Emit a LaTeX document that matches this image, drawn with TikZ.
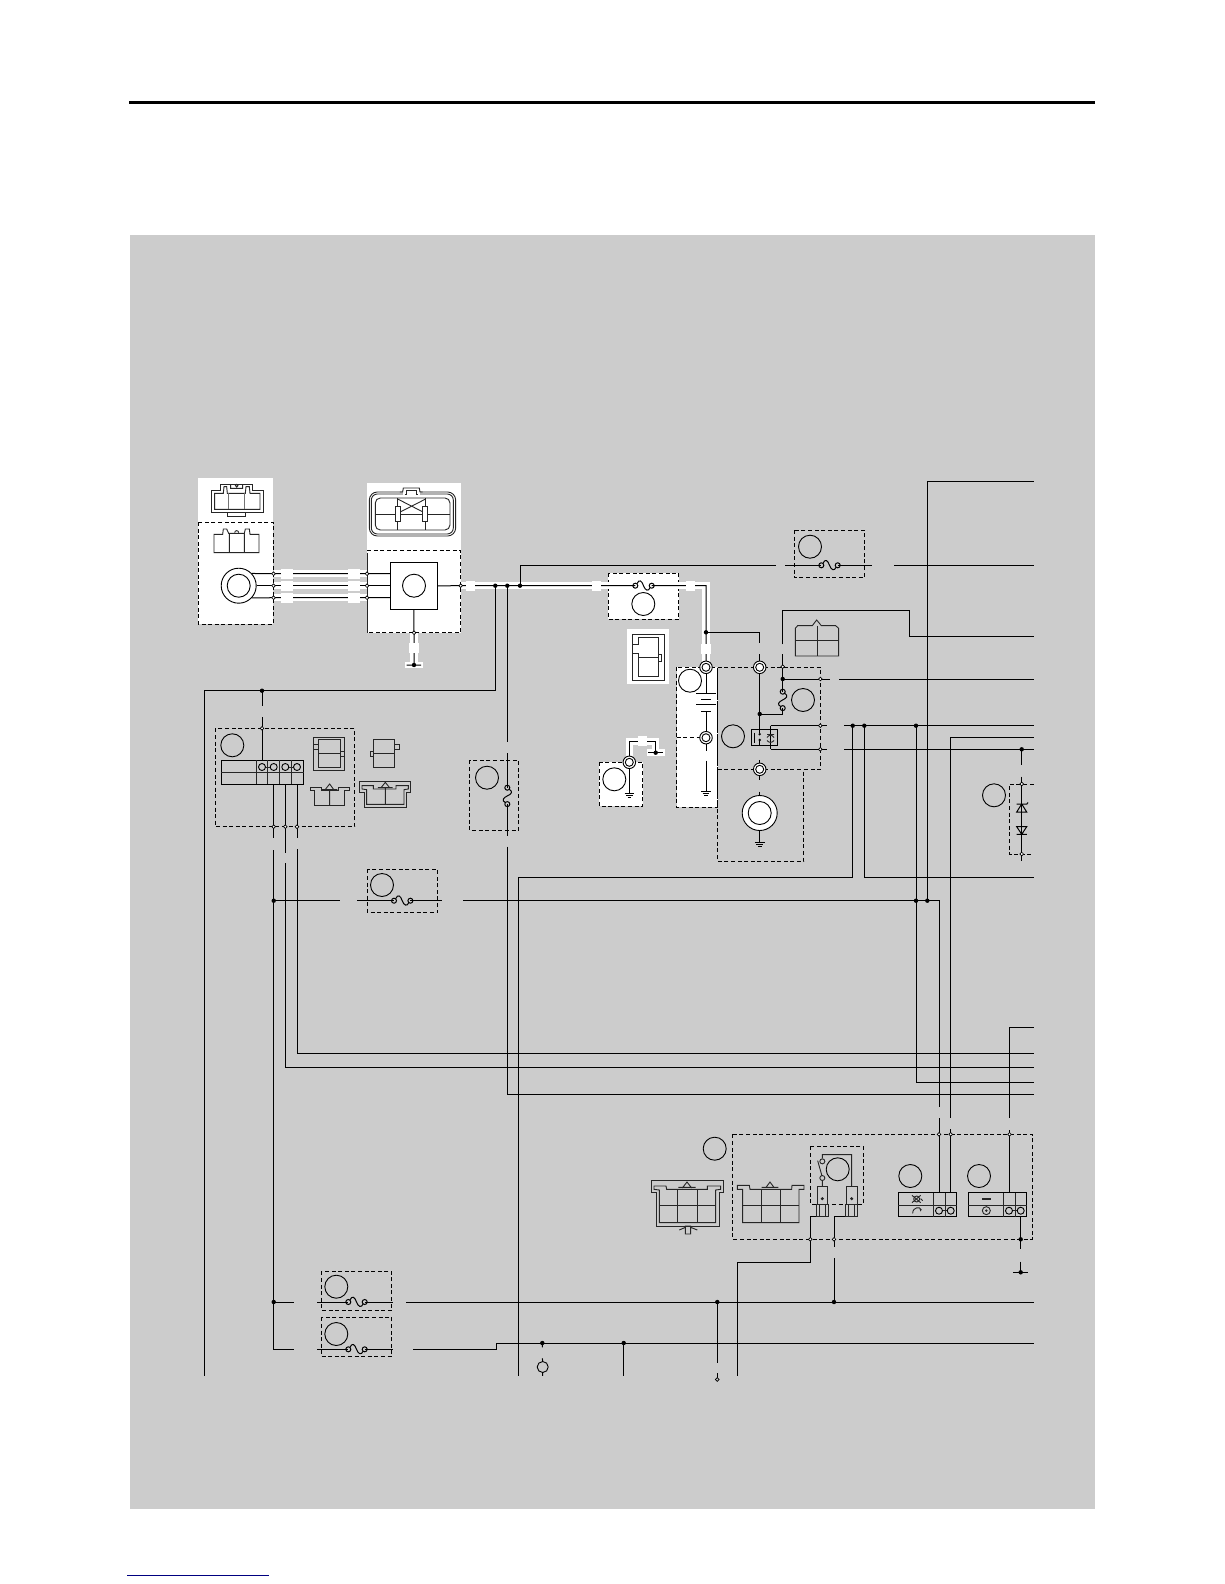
\documentclass[tikz,border=0pt]{standalone}
\usepackage{tikz}
\usetikzlibrary{arrows.meta,shapes.geometric}
\definecolor{panel}{HTML}{CCCCCC}
\definecolor{linkblue}{HTML}{000080}
\tikzset{
  wire/.style={line width=1pt,black},
  halo/.style={line width=7.2pt,white},
  part/.style={line width=0.9pt,black!85},
  dashbox/.style={line width=0.9pt,dash pattern=on 4pt off 2.6pt},
  whitebox/.style={dashbox,fill=white},
  tag/.style={circle,draw,inner sep=0pt,minimum size=23pt,line width=0.9pt},
  gen/.style={circle,draw,fill=white,inner sep=0pt,minimum size=35pt,line width=0.9pt},
  jdot/.style={circle,fill=black,inner sep=0pt,minimum size=4.4pt},
  odot/.style={circle,draw,fill=white,inner sep=0pt,minimum size=3.6pt,line width=0.7pt},
  pin/.style={circle,draw,inner sep=0pt,minimum size=7pt,line width=0.9pt},
  ring/.style={circle,draw,fill=white,inner sep=0pt,minimum size=12.5pt,line width=0.9pt,
    path picture={\draw[line width=0.9pt] (path picture bounding box.center) circle (4pt);}},
  zoomed/.style={x=0.3333pt,y=-0.3333pt,part}
}
\newcommand{\fuseh}[2]{%
  \draw[wire] (#1,#2) circle (2.5pt) (#1+16.4,#2) circle (2.5pt);
  \draw[wire] (#1+1.6,#2-2) .. controls (#1+4,#2-7) and (#1+6.5,#2-5) .. (#1+8.2,#2)
    .. controls (#1+10,#2+5) and (#1+13,#2+6) .. (#1+14.8,#2+2);}
\newcommand{\fusev}[2]{%
  \draw[wire] (#1,#2) circle (2.5pt) (#1,#2+16.4) circle (2.5pt);
  \draw[wire] (#1+2,#2+1.6) .. controls (#1+6,#2+4) and (#1+4,#2+6.5) .. (#1,#2+8.2)
    .. controls (#1-4,#2+10) and (#1-6,#2+13) .. (#1-2,#2+14.8);}
\newcommand{\gnd}[2]{%
  \draw[wire] (#1-4.8,#2) -- (#1+4.8,#2) (#1-3.3,#2+2) -- (#1+3.3,#2+2) (#1-1.8,#2+4) -- (#1+1.8,#2+4);}

\begin{document}
\begin{tikzpicture}[x=1pt,y=-1pt]
  \useasboundingbox (0,0) rectangle (1224,1584);
  \fill[panel] (130,234.7) rectangle (1094.5,1509);
  \fill[black] (129,101) rectangle (1095,104.3);
  \draw[linkblue,line width=1pt] (127,1575) -- (269,1575);

  % white boxes
  \fill[white] (198,478) rectangle (273,522);
  \draw[whitebox] (198,522) rectangle (273,624);
  \fill[white] (367,483) rectangle (460.7,632.7);
  \draw[dashbox] (367,550) -- (460.7,550) -- (460.7,632.7) -- (367,632.7);
  \draw[part] (367,553) -- (367,632.7);
  \draw[whitebox] (608.3,573.3) rectangle (678.7,619.3);
  \fill[white] (627.3,629) rectangle (668.7,684.3);
  \draw[whitebox] (599.3,762.3) rectangle (642.7,806.3);
  \draw[whitebox] (676.7,667.3) rectangle (717.7,807.3);
  \draw[dashbox] (676.7,737.7) -- (700,737.7);

  % plain boxes
  \draw[dashbox] (794.3,530) rectangle (864.3,577.7);
  \draw[dashbox] (717.7,667.3) -- (820.7,667.3) -- (820.7,769.3) -- (803.7,769.3) -- (803.7,861.3) -- (717.7,861.3) -- cycle;
  \draw[dashbox] (717.7,769.3) -- (803.7,769.3);
  \draw[dashbox] (1033.5,784) -- (1009.3,784) -- (1009.3,854) -- (1033.5,854);
  \draw[dashbox] (215.3,728.3) rectangle (354.7,826.7);
  \draw[dashbox] (469.3,760.3) rectangle (518.7,830.3);
  \draw[dashbox] (367.3,869.3) rectangle (437.7,912.3);
  \draw[dashbox] (321.3,1271.3) rectangle (391.7,1310.3);
  \draw[dashbox] (321.3,1317.3) rectangle (391.7,1356.7);
  \draw[dashbox] (732.7,1134.3) rectangle (1032.3,1239.3);
  \draw[dashbox] (810.7,1146.3) rectangle (863.3,1204.3);

  % parts
  \node[gen] (mag) at (238.7,585.7) {};
  \node[tag] (magin) at (238.7,585.7) {};
  \node[draw,fill=white,inner sep=0pt,minimum size=47pt,line width=0.9pt] (ecu) at (413.8,585.8) {};
  \node[gen] (stator) at (759.7,813) {};
  \node[tag] (statorin) at (759.7,813) {};
  \node[draw,inner sep=0pt,minimum width=26pt,minimum height=16.4pt,line width=0.9pt] (relay) at (764.3,737.5) {};
  \node[draw,circle,inner sep=0pt,minimum size=11pt,line width=0.9pt] (horn) at (542.7,1367) {};

  \foreach \n/\x/\y in {
    md1/273.5/573.7, md2/273.5/585.7, md3/273.5/597.7, ec1/367/573.7, ec2/367/585.7, ec3/367/597.7,
    eco/460.7/585.7, ecd/414/632.7, ecg/414/665, ecl/406.7/665, ecr/421/665,
    ja/495.3/585.7, jb/507.3/585.7, jc/520/585.7, fm1/635.3/585.7, fm2/651.7/585.7, mc/706/585.7,
    bj/706/632.3, bp/706/667.3, bm/706/737.7, bt1/706/693.3, bt2/706/711.3, bm1/706/750.7, bm2/706/760.7, bg/706/791.7,
    sr/629.3/762.3, sg1/629.3/793.3, sc/629.3/741.7, sd/655.7/741.7, sj/655.7/752.7, sl/648.3/752.7, sk/663.3/752.7,
    mj/759.7/632.3, mj1/759.7/643.3, mj2/759.7/654.3, mr/759.7/667.3, mf/759.7/714, mi/759.7/733.4, mo/759.7/740,
    gr/759.7/769.3, gr1/759.7/760, gr2/759.7/780, gr3/759.7/791.7, gg/759.7/842.7,
    ff/782.7/714, ffb/782.7/708, fft/782.7/691.7, fj/782.7/679, fo/782.7/666.7, f1/782.7/654.3, f2/782.7/644.3,
    f3/909.7/610.7, f4/1033.5/636, s1/820.3/679, s2/830/679, s3/839.3/679, s4/1033.5/679,
    r1/770.7/725.7, r2/820.3/725.7, r3/826.7/725.7, r4/844/725.7, r5/1033.5/725.7,
    q1/770.7/749.3, q2/820.3/749.3, q3/826.7/749.3, q4/844/749.3, q5/1033.5/749.3,
    zj/1021.7/749.3, z1/1021.7/765, z2/1021.7/776.7, zt/1021.7/784, zb/1021.7/854, z3/1021.7/860.7,
    ka/852.7/725.7, ka1/518.7/877.3, ka2/518.7/1376, kb/864.3/725.7, kb1/1033.5/877.3,
    kc/916/725.7, kc1/916/900.7, kc2/1033.5/1082, kd/927.3/900.7, kd1/1033.5/481,
    ke/1033.5/737, ke1/950.7/737, ke2/950.7/1118.3, ke3/950.7/1129.3, ke4/950.7/1134.3, ke5/950.7/1192.7,
    la/273.7/900.7, la1/340/900.7, la2/357/900.7, la3/394/900.7, la4/410.4/900.7, la5/441.7/900.7, la6/463/900.7,
    la7/939/900.7, la8/939/1107.3, la9/939/1118, la10/939/1134.3, la11/939/1192.7,
    w1/1033.5/1027, w2/1009.5/1118.3, w3/1009.5/1130, w4/1009.5/1134.3, w5/1009.5/1192.7,
    t1/273.7/784, t2/273.7/826.7, t3/273.7/838, t4/273.7/850, t5/273.7/1302, t6/294/1302, t7/273.7/1349.3, t8/294/1349.3,
    u1/285.3/784, u2/285.3/826.7, u3/285.3/852.7, u4/285.3/863.3, u5/1033.5/1067.5,
    v1/297/784, v2/297/826.7, v3/297/838, v4/297/849, v5/1033.5/1053.5,
    y1/507.3/741.7, y2/507.3/753, y3/507.3/787.7, y4/507.3/804.1, y5/507.3/836, y6/507.3/846.7, y7/1033.5/1094.3,
    n1/204/690.7, n2/204/1376, n3/262/690.7, n4/262/706, n5/262/717, n6/262/728.3, n7/262/761,
    c1/520/565.3, c2/776/565.3, c3/785/565.3, c4/821.3/565.3, c5/837.7/565.3, c6/871.7/565.3, c7/894/565.3, c8/1033.5/565.3,
    h1/317.3/1302, h2/348.3/1302, h3/364.7/1302, h4/392.7/1302, h5/406/1302, h6/717.3/1302, h7/834/1302, h8/1033.5/1302,
    i1/317.3/1349.3, i2/348.3/1349.3, i3/364.7/1349.3, i4/392.7/1349.3, i5/413/1349.3, i6/496/1349.3, i7/496/1343,
    i8/542.3/1343, i9/623.7/1343, i10/1033.5/1343, i11/542.3/1347.3, i12/542.3/1358.3, i13/623.7/1376,
    o1/717.3/1362.7, o2/717.3/1373.3, o3/717.3/1378,
    p1/810.3/1216.7, p2/828.3/1216.7, p3/810.3/1239.3, p4/810.3/1262.7, p5/737/1262.7, p6/737/1376,
    p7/834/1216.7, p8/857/1216.7, p9/834/1239.3, p10/834/1247.3, p11/834/1258.3,
    b1/1020.7/1216.7, b2/1020.7/1239.3, b3/1020.7/1249.3, b4/1020.7/1261.7, b5/1020.7/1272.3, b6/1013.3/1272.3, b7/1028.3/1272.3}
    \coordinate (\n) at (\x,\y);

  % bright harness
  \draw[halo] (md1) -- (ec1);
  \draw[halo] (md2) -- (ec2);
  \draw[halo] (md3) -- (ec3);
  \draw[halo] (eco) -- (mc) -- (bp);
  \draw[halo] (ecd) -- (ecg);
  \draw[white,line width=6pt] (405,665) -- (422.7,665);
  \draw[halo] (sr) -- (sc) -- (sd) -- (sj);
  \draw[white,line width=6.7pt] (647.3,752.7) -- (665,752.7);

  % wires
  \draw[wire] (mag.43) -- (md1) -- (ec1) -- (ecu.west |- ec1);
  \draw[wire] (mag.east) -- (md2) -- (ec2) -- (ecu.west |- ec2);
  \draw[wire] (mag.-43) -- (md3) -- (ec3) -- (ecu.west |- ec3);
  \draw[wire] (ecu.east) -- (eco) -- (fm1) (fm2) -- (mc) -- (bp);
  \draw[wire] (ecu.south) -- (ecd) -- (ecg) (ecl) -- (ecr);
  \draw[wire] (ja) -- (ja |- n1) -- (n1) -- (n2);
  \draw[wire] (n3) -- (n4) (n5) -- (n7);
  \draw[wire] (jb) -- (y1) (y2) -- (y3) (y4) -- (y5) (y6) -- (y6 |- y7) -- (y7);
  \draw[wire] (jc) -- (c1) -- (c2) (c3) -- (c4) (c5) -- (c6) (c7) -- (c8);
  \draw[wire] (bp) -- (bt1) (bt2) -- (bm) -- (bm1) (bm2) -- (bg);
  \draw[wire] (696,693.5) -- (715.7,693.5) (701,699) -- (711,699) (696,704.5) -- (715.7,704.5) (701,711.5) -- (711,711.5);
  \draw[wire] (sg1) -- (sr) -- (sc) -- (sd) -- (sj) (sl) -- (sk);
  \draw[wire] (bj) -- (mj) -- (mj1) (mj2) -- (mr) -- (mf) -- (mi);
  \draw[wire] (mo) -- (relay.south -| mo);
  \draw[wire] (gr1) -- (gr2) (gr3) -- (stator.north) (stator.south) -- (gg);
  \draw[wire] (mf) -- (ff) -- (ffb) (fft) -- (fj) -- (fo) -- (f1) (f2) -- (f2 |- f3) -- (f3) -- (f3 |- f4) -- (f4);
  \draw[wire] (fj) -- (s2) (s3) -- (s4);
  \draw[wire] (r1) -- (q1) (r1) -- (r3) (r4) -- (r5) (q1) -- (q3) (q4) -- (q5);
  \draw[wire] (zj) -- (z1) (z2) -- (z3);
  \draw[wire] (ka) -- (ka |- ka1) -- (ka1) -- (ka2);
  \draw[wire] (kb) -- (kb |- kb1) -- (kb1);
  \draw[wire] (kc) -- (kc |- kc2) -- (kc2);
  \draw[wire] (kd) -- (kd |- kd1) -- (kd1);
  \draw[wire] (ke) -- (ke1) -- (ke2) (ke3) -- (ke5);
  \draw[wire] (la) -- (la1) (la2) -- (la3) (la4) -- (la5) (la6) -- (la7) -- (la8) (la9) -- (la11);
  \draw[wire] (w1) -- (w1 -| w2) -- (w2) (w3) -- (w5);
  \draw[wire] (t1) -- (t3) (t4) -- (t7) -- (t8) (t5) -- (t6);
  \draw[wire] (u1) -- (u3) (u4) -- (u4 |- u5) -- (u5);
  \draw[wire] (v1) -- (v3) (v4) -- (v4 |- v5) -- (v5);
  \draw[wire] (h1) -- (h2) (h3) -- (h4) (h5) -- (h8);
  \draw[wire] (i1) -- (i2) (i3) -- (i4) (i5) -- (i6) -- (i7) -- (i10);
  \draw[wire] (i8) -- (i11) (i12) -- (horn.north) (horn.south) -- ++(0,3);
  \draw[wire] (i9) -- (i13);
  \draw[wire] (h6) -- (o1) (o2) -- (o3);
  \draw[wire] (p2) -- (p1) -- (p4) -- (p5) -- (p6);
  \draw[wire] (p8) -- (p7) -- (p10) (p11) -- (h7);
  \draw[wire] (b1) -- (b3) (b4) -- (b5) (b6) -- (b7);

  % fuses and ground marks
  \fuseh{635.3}{585.7}
  \fuseh{821.3}{565.3}
  \fuseh{394}{900.7}
  \fuseh{348.3}{1302}
  \fuseh{348.3}{1349.3}
  \fusev{507.3}{787.7}
  \fusev{782.7}{691.7}
  \gnd{706}{791.7}
  \gnd{629.3}{793.3}
  \gnd{759.7}{842.7}

  % colour code patches
  \foreach \x/\y/\w in {287/573.7/12.6, 287/585.7/12.6, 287/597.7/12.6, 354/573.7/12, 354/585.7/12, 354/597.7/12,
    470.5/585.7/9.6, 596.2/585.7/9, 690.7/585.7/9.4, 706/648.7/9.4, 414/648/9.4, 642.7/741.3/9.4}
    \fill[white] (\x-\w/2,\y-5.1) rectangle (\x+\w/2,\y+5.1);

  % relay inside
  \draw[wire] (754.7,732.7) -- (754.7,742.7);
  \node[jdot,minimum size=2.6pt] (rc1) at (759.7,734.2) {};
  \node[jdot,minimum size=2.6pt] (rc2) at (759.7,740) {};
  \draw[part] (767,734.5) -- (774,734.5) (767,737.5) .. controls (769,734.5) and (772,734.5) .. (774,737.5)
    (767,740.5) .. controls (769,743) and (772,743) .. (774,740.5);

  % diodes
  \draw[wire] (1016.7,812) -- (1026.7,812) -- (1021.7,804) -- cycle (1016.5,804) -- (1026.9,804) -- (1028,802.5);
  \draw[wire] (1016.7,826.7) -- (1026.7,826.7) -- (1021.7,834.3) -- cycle (1016.5,834.3) -- (1026.9,834.3);

  % tagged circles
  \foreach \i/\x/\y in {1/810/546.7, 2/643.3/604, 3/414/585.7, 4/690/680.7, 5/733/736.3, 6/803/700, 7/614.3/779.3,
    8/994/795.3, 9/232.3/745.3, 10/487/777.7, 11/382/885, 12/336.3/1286.7, 13/336.3/1334, 14/714.7/1148.7,
    15/837.7/1169.3, 16/910.3/1176, 17/979/1176}
    \node[tag] (tag\i) at (\x,\y) {};

  % switch units
  \foreach \x/\n in {898.3/A, 968.3/B} {
    \node[draw,inner sep=0pt,minimum width=58.4pt,minimum height=24pt,line width=0.9pt] (unit\n) at (\x+29.2,1204.7) {};
    \draw[part] (\x,1205) -- (\x+58.4,1205) (\x+35,1192.7) -- (\x+35,1216.7) (\x+46.7,1192.7) -- (\x+46.7,1216.7);
    \node[pin] (pin\n a) at (\x+40.7,1210.7) {};
    \node[pin] (pin\n b) at (\x+52.4,1210.7) {};
    \draw[part] (pin\n a) -- (pin\n b);
  }
  \begin{scope}[shift={(900,1090)},zoomed]
    \draw (50,327) circle (9) (36,316) -- (62,338) (62,316) -- (36,338) (62,326) -- (68,332);
    \draw[-{Latex[length=3pt]}] (38,370) .. controls (38,350) and (62,350) .. (62,366);
    \draw[line width=1.2pt] (247,327) -- (272,327);
    \draw (259,362) circle (12);
    \fill (259,362) circle (4);
  \end{scope}

  % main switch block
  \node[draw,inner sep=0pt,minimum width=82.4pt,minimum height=24pt,line width=0.9pt] (mainsw) at (262.5,772.3) {};
  \draw[part] (221.3,772.3) -- (303.7,772.3);
  \foreach \x in {256.7,267.7,279.3,291.3}
    \draw[part] (\x,760.3) -- (\x,784.3);
  \foreach \i/\x in {1/262,2/273.7,3/285.3,4/297}
    \node[pin] (sw\i) at (\x,767) {};
  \draw[part] (sw1) -- (sw2) (sw3) -- (sw4);

  % open and closed dots
  \foreach \n in {md1,md2,md3,ec1,ec2,ec3,eco,ecd,fo,s1,r2,q2,zt,zb,n6,t2,u2,v2,ke4,la10,w4,p3,p9}
    \node[odot] (o\n) at (\n) {};
  \foreach \n in {ecg,ja,jb,jc,bj,sj,mf,fj,zj,ka,kb,kc,kd,la,t5,h6,h7,i8,i9,n3,b2,b5,kc1}
    \node[jdot] (d\n) at (\n) {};
  \foreach \n in {bp,bm,sr,mr,gr}
    \node[ring] (r\n) at (\n) {};
  \node[draw,diamond,fill=panel,inner sep=0pt,minimum size=4pt,line width=0.7pt] (ohalf) at (717.3,1379.5) {};

  % connector drawings
  \begin{scope}[shift={(200,480)},zoomed]
    \draw (34,30) -- (62,30) -- (62,12) -- (156,12) -- (156,30) -- (189,30) -- (189,97) -- (34,97) -- cycle;
    \draw (44,40) -- (70,40) -- (72,20) -- (80,20) -- (82,40) -- (136,40) -- (138,20) -- (148,20) -- (150,40) -- (180,40) -- (180,88) -- (44,88) -- cycle;
    \draw[black!55] (84,40) -- (84,88) (134,40) -- (134,88);
    \draw (82,97) -- (82,108) -- (137,108) -- (137,97);
    \draw (92,12) -- (92,25) -- (128,25) -- (128,12) (110,17) circle (4);
    \draw (42,218) -- (42,163) -- (68,163) -- (70,147) -- (80,147) -- (86,160) -- (133,160) -- (136,147) -- (148,147) -- (150,163) -- (177,163) -- (177,218) -- cycle;
    \draw (88,160) -- (88,218) (133,160) -- (133,218) (104,158) .. controls (104,150) and (116,150) .. (116,158);
  \end{scope}
  \begin{scope}[shift={(190,470)},zoomed]
    \draw[rounded corners=8pt] (538,66) rectangle (797,198);
    \draw[rounded corners=6pt] (544,72) rectangle (790,192);
    \draw[rounded corners=5pt] (556,84) rectangle (780,180);
    \draw[fill=white,draw=white] (640,54) rectangle (688,74);
    \draw (630,66) -- (638,66) -- (640,54) -- (688,54) -- (690,66) -- (698,66);
    \draw (644,72) -- (648,72) -- (648,60) -- (680,60) -- (680,72) -- (684,72);
    \draw (556,132) -- (780,132) (623,84) -- (623,180) (707,84) -- (707,180);
    \draw (623,87) -- (707,130) (707,87) -- (623,130);
    \draw[fill=white] (616,110) rectangle (632,154) (698,110) rectangle (713,154);
  \end{scope}
  \begin{scope}[shift={(580,510)},zoomed]
    \draw (156,373) rectangle (254,510);
    \draw (157,403) -- (175,403) -- (175,382) -- (236,382) -- (236,500) -- (175,500) -- (175,430) -- (157,430);
    \draw (175,441) -- (236,441) (236,434) rectangle (245,453);
    \draw (646,438) -- (646,355) -- (653,347) -- (697,347) -- (710,330) -- (724,347) -- (767,347) -- (776,355) -- (776,438) -- cycle;
    \draw (711,347) -- (711,438) (646,392) -- (776,392);
  \end{scope}
  \begin{scope}[shift={(310,735)},zoomed]
    \draw (11,8) rectangle (104,106) (25,14) rectangle (92,98);
    \draw (11,28) -- (25,28) (11,42) -- (25,42) (25,54) -- (92,54) (92,48) rectangle (103,64);
    \draw (190,14) rectangle (254,98) (190,55) -- (254,55) (254,28) rectangle (269,42) (180,48) rectangle (190,64);
    \draw (0,156) -- (34,156) -- (34,165) -- (84,165) -- (84,156) -- (118,156) -- (118,166) -- (104,166) -- (104,212) -- (14,212) -- (14,166) -- (0,166) -- cycle;
    \draw (59,165) -- (59,212) (47,162) -- (59,147) -- (70,162) (36,164) -- (82,164);
    \draw (148,138) -- (302,138) -- (302,172) -- (288,172) -- (288,216) -- (162,216) -- (162,172) -- (148,172) -- cycle;
    \draw (156,162) -- (156,152) -- (190,152) -- (190,162) -- (258,162) -- (258,152) -- (295,152) -- (295,162) -- (282,164) -- (282,208) -- (170,208) -- (170,164) -- cycle;
    \draw (226,160) -- (226,208) (214,157) -- (226,142) -- (238,157) (204,158) -- (248,158);
  \end{scope}
  \begin{scope}[shift={(630,1110)},zoomed]
    \draw (63,212) -- (280,212) -- (280,248) -- (267,248) -- (267,348) -- (78,348) -- (78,248) -- (63,248) -- cycle;
    \draw (72,238) -- (72,228) -- (108,228) -- (110,238) -- (232,238) -- (232,228) -- (272,228) -- (272,238) -- (257,240) -- (257,338) -- (88,338) -- (88,240) -- cycle;
    \draw (142,238) -- (142,338) (202,238) -- (202,338) (88,287) -- (257,287);
    \draw (157,234) -- (171,216) -- (185,234) (145,232) -- (197,232);
    \draw (166,348) rectangle (182,372) (148,360) -- (166,352) (182,352) -- (202,360);
    \draw (338,238) -- (322,238) -- (322,226) -- (358,226) -- (360,238) -- (485,238) -- (486,226) -- (522,226) -- (522,238) -- (507,238) -- (507,338) -- (338,338) -- cycle;
    \draw (393,238) -- (393,338) (451,238) -- (451,338) (338,287) -- (507,287);
    \draw (408,232) -- (420,216) -- (432,232) (395,232) -- (445,232);
  \end{scope}
  \begin{scope}[shift={(745,1140)},zoomed]
    \draw (216,138) rectangle (248,193) (304,138) rectangle (336,193);
    \draw (215,193) rectangle (250,229) (222,193) -- (222,229) (240,193) -- (240,229);
    \draw (302,193) rectangle (337,229) (310,193) -- (310,229) (328,193) -- (328,229);
    \node[pin,minimum size=5pt] (lever1) at (232,64) {};
    \node[pin,minimum size=5pt] (lever2) at (232,114) {};
    \draw (lever1) -- (232,44) -- (320,44) -- (320,138) (lever2) -- (232,138) (218,62) -- (231,108);
    \fill (232,176) circle (5) (320,176) circle (5);
  \end{scope}
\end{tikzpicture}
\end{document}
